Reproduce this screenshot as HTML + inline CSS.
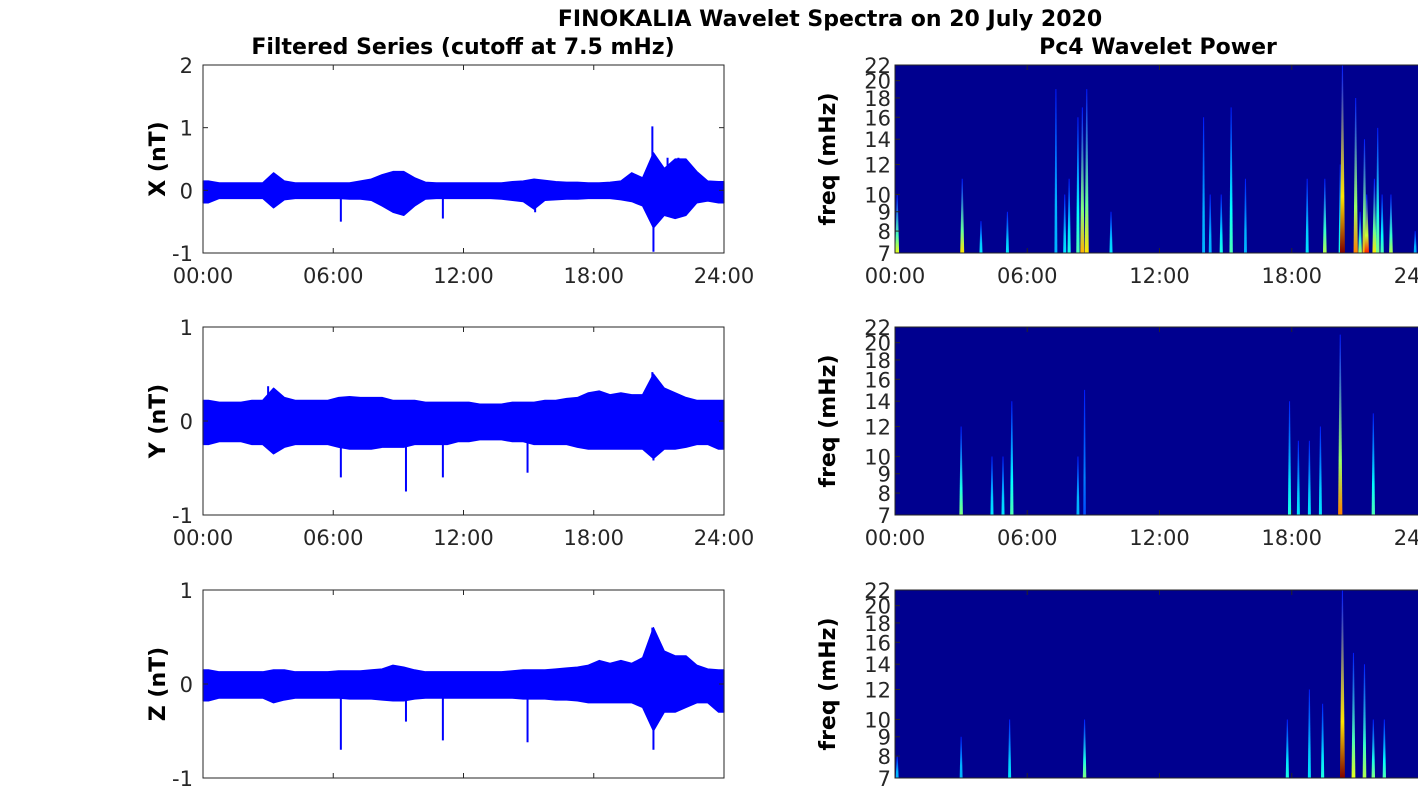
<!DOCTYPE html>
<html><head><meta charset="utf-8"><style>
html,body{margin:0;padding:0;background:#fff;}
svg{display:block;font-family:"DejaVu Sans","Liberation Sans",sans-serif;}
</style></head><body>
<svg id="fig" width="1418" height="788" viewBox="0 0 1418 788" xmlns="http://www.w3.org/2000/svg">
<text x="830" y="26" text-anchor="middle" font-weight="bold" font-size="22" fill="#000">FINOKALIA Wavelet Spectra on 20 July 2020</text>
<text x="463" y="54" text-anchor="middle" font-weight="bold" font-size="22" fill="#000">Filtered Series (cutoff at 7.5 mHz)</text>
<text x="1158" y="54" text-anchor="middle" font-weight="bold" font-size="22" fill="#000">Pc4 Wavelet Power</text>
<g id="plots"></g>
</svg>
<script>
// ---- data: time series envelopes at 30-min resolution (48 bins) ----
const hours = Array.from({length:48},(_, i)=>i*0.5);
const xUpper=[0.15,0.12,0.12,0.12,0.12,0.12,0.28,0.15,0.12,0.12,0.12,0.12,0.12,0.12,0.15,0.18,0.25,0.3,0.3,0.2,0.13,0.12,0.12,0.12,0.12,0.12,0.12,0.12,0.14,0.15,0.18,0.16,0.14,0.13,0.13,0.12,0.12,0.13,0.15,0.28,0.2,0.6,0.35,0.5,0.5,0.3,0.15,0.14];
const xLower=[-0.2,-0.13,-0.13,-0.13,-0.13,-0.13,-0.28,-0.15,-0.13,-0.13,-0.13,-0.13,-0.13,-0.14,-0.14,-0.16,-0.25,-0.35,-0.4,-0.25,-0.14,-0.13,-0.13,-0.13,-0.13,-0.13,-0.13,-0.14,-0.16,-0.18,-0.3,-0.16,-0.15,-0.14,-0.14,-0.13,-0.13,-0.13,-0.15,-0.18,-0.25,-0.6,-0.4,-0.45,-0.4,-0.2,-0.17,-0.2];
const yUpper=[0.22,0.2,0.2,0.2,0.22,0.22,0.35,0.25,0.22,0.22,0.22,0.22,0.25,0.26,0.25,0.25,0.25,0.22,0.22,0.22,0.2,0.2,0.2,0.2,0.2,0.18,0.18,0.18,0.2,0.2,0.2,0.22,0.22,0.24,0.25,0.3,0.32,0.28,0.3,0.28,0.28,0.5,0.35,0.3,0.25,0.22,0.22,0.22];
const yLower=[-0.25,-0.22,-0.22,-0.22,-0.25,-0.25,-0.35,-0.28,-0.25,-0.25,-0.25,-0.25,-0.28,-0.3,-0.3,-0.3,-0.28,-0.28,-0.28,-0.25,-0.25,-0.25,-0.25,-0.22,-0.22,-0.2,-0.2,-0.2,-0.22,-0.22,-0.25,-0.25,-0.25,-0.25,-0.28,-0.3,-0.3,-0.3,-0.3,-0.3,-0.3,-0.4,-0.3,-0.3,-0.28,-0.25,-0.25,-0.3];
const zUpper=[0.15,0.13,0.13,0.13,0.13,0.13,0.15,0.15,0.13,0.13,0.13,0.13,0.14,0.14,0.14,0.15,0.16,0.2,0.18,0.15,0.13,0.13,0.13,0.13,0.13,0.13,0.13,0.13,0.14,0.15,0.15,0.15,0.16,0.17,0.18,0.2,0.25,0.22,0.25,0.22,0.28,0.6,0.35,0.3,0.3,0.2,0.16,0.15];
const zLower=[-0.18,-0.15,-0.15,-0.15,-0.15,-0.15,-0.2,-0.17,-0.15,-0.15,-0.15,-0.15,-0.15,-0.16,-0.16,-0.16,-0.17,-0.18,-0.18,-0.16,-0.15,-0.15,-0.15,-0.15,-0.15,-0.15,-0.15,-0.15,-0.15,-0.16,-0.16,-0.16,-0.17,-0.17,-0.18,-0.2,-0.2,-0.2,-0.2,-0.2,-0.25,-0.5,-0.3,-0.3,-0.25,-0.2,-0.2,-0.3];
// spikes: time (h), value
const xSpikeT=[6.35,11.05,15.3,20.7,20.75,21.4,21.9,22.5];
const xSpikeV=[-0.5,-0.45,-0.35,1.02,-0.98,0.52,0.52,0.35];
const ySpikeT=[3.0,6.35,9.35,11.05,14.95,20.7,20.75];
const ySpikeV=[0.37,-0.6,-0.75,-0.6,-0.55,0.52,-0.42];
const zSpikeT=[6.35,9.35,11.05,14.95,20.7,20.75];
const zSpikeV=[-0.7,-0.4,-0.6,-0.62,0.6,-0.7];
// spectrogram stripes: time (h), top freq (mHz), power (0..1)
const s1T=[0.1,3.05,3.9,5.1,7.3,7.7,7.9,8.3,8.5,8.7,9.8,14.0,14.3,14.8,15.25,15.9,18.7,19.5,20.2,20.3,20.9,21.1,21.3,21.4,21.75,21.9,22.1,22.5,23.6];
const s1F=[10,11,8.5,9,19,10,11,16,17,19,9,16,10,10,17,11,11,11,12,22,18,9,14,10,11,15,10,10,8];
const s1P=[0.6,0.65,0.35,0.35,0.3,0.35,0.4,0.45,0.7,0.65,0.35,0.3,0.3,0.4,0.45,0.3,0.35,0.55,0.4,1.0,0.75,0.55,0.7,0.85,0.65,0.5,0.45,0.55,0.3];
const s2T=[3.0,4.4,4.9,5.3,8.3,8.6,17.9,18.3,18.8,19.3,20.2,21.7];
const s2F=[12,10,10,14,10,15,14,11,11,12,21,13];
const s2P=[0.5,0.35,0.35,0.45,0.3,0.2,0.4,0.35,0.35,0.35,0.75,0.45];
const s3T=[0.1,3.0,5.2,8.6,17.8,18.8,19.4,20.3,20.8,21.3,21.7,22.2];
const s3F=[8,9,10,10,10,12,11,22,15,14,10,10];
const s3P=[0.3,0.3,0.35,0.5,0.4,0.35,0.4,1.0,0.6,0.55,0.5,0.45];
const timeTicks=["00:00","06:00","12:00","18:00","24:00"];
const freqTicks=[7,8,9,10,12,14,16,18,20,22];

const NS="http://www.w3.org/2000/svg";
const root=document.getElementById('plots');
function mk(tag,attrs,parent){const e=document.createElementNS(NS,tag);for(const k in attrs)e.setAttribute(k,attrs[k]);(parent||root).appendChild(e);return e;}
function jet(t){
  const c=v=>Math.round(255*Math.max(0,Math.min(1,v)));
  const r=1.5-Math.abs(4*t-3), g=1.5-Math.abs(4*t-2), b=1.5-Math.abs(4*t-1);
  return `rgb(${c(r)},${c(g)},${c(b)})`;
}
let gid=0;
const FS=21;
function linePanel(name,top,ymin,ymax,yticks,upper,lower,spT,spV,ylab,showX){
  const L=203,R=724,T=top,B=top+188;
  const sx=h=>L+(R-L)*h/24, sy=v=>B-(B-T)*(v-ymin)/(ymax-ymin);
  const g=mk('g',{});
  
  
  mk('rect',{x:L,y:T,width:R-L,height:B-T,fill:'#fff'},g);
  let pts=[];
  pts.push(sx(0)+','+sy(upper[0]));
  hours.forEach((h,i)=>{pts.push(sx(h+0.25)+','+sy(upper[i]));});
  pts.push(sx(24)+','+sy(upper[upper.length-1]));
  pts.push(sx(24)+','+sy(lower[lower.length-1]));
  for(let i=hours.length-1;i>=0;i--){pts.push(sx(hours[i]+0.25)+','+sy(lower[i]));}
  pts.push(sx(0)+','+sy(lower[0]));
  const band=mk('polygon',{points:pts.join(' '),fill:'#0000ff',stroke:'#0000ff','stroke-width':1.2,'stroke-linejoin':'round'},g);
  
  
  spT.forEach((t,i)=>{
    const l=mk('line',{x1:sx(t),x2:sx(t),y1:sy(0),y2:sy(spV[i]),stroke:'#0000ff','stroke-width':2},g);
    
    
  });
  mk('rect',{x:L,y:T,width:R-L,height:B-T,fill:'none',stroke:'#262626','stroke-width':1},g);
  yticks.forEach(v=>{
    mk('line',{x1:L,x2:L+5,y1:sy(v),y2:sy(v),stroke:'#262626'},g);
    mk('line',{x1:R,x2:R-5,y1:sy(v),y2:sy(v),stroke:'#262626'},g);
    const t=mk('text',{x:L-10,y:sy(v)+8,'text-anchor':'end','font-size':FS,fill:'#262626'},g);t.textContent=v;
    
    
  });
  timeTicks.forEach((lab,i)=>{
    const x=sx(i*6);
    mk('line',{x1:x,x2:x,y1:B,y2:B-5,stroke:'#262626'},g);
    mk('line',{x1:x,x2:x,y1:T,y2:T+5,stroke:'#262626'},g);
    if(showX){const t=mk('text',{x:x,y:B+30,'text-anchor':'middle','font-size':FS,fill:'#262626'},g);t.textContent=lab;
      
      }
  });
  const yl=mk('text',{x:0,y:0,transform:`translate(165,${(T+B)/2}) rotate(-90)`,'text-anchor':'middle','font-size':22,'font-weight':'bold',fill:'#000'},g);
  yl.textContent=ylab;
  
  
}
function specPanel(name,top,T_,F_,P_,showX){
  const L=895,R=1424,T=top,B=top+188;
  const fmin=7,fmax=22;
  const sx=h=>L+(R-L)*h/24, sy=f=>B-(B-T)*Math.log(f/fmin)/Math.log(fmax/fmin);
  const g=mk('g',{});
  
  
  mk('rect',{x:L,y:T,width:R-L,height:B-T,fill:'#00008f'},g);
  const defs=mk('defs',{},g);
  T_.forEach((t,i)=>{
    const id='gr'+(gid++);
    const lg=mk('linearGradient',{id:id,x1:0,y1:1,x2:0,y2:0},defs);
    mk('stop',{offset:'0','stop-color':jet(P_[i])},lg);
    mk('stop',{offset:'0.3','stop-color':jet(0.15+P_[i]*0.5)},lg);
    mk('stop',{offset:'1','stop-color':jet(0.15)},lg);
    const x=sx(t), w=1+P_[i]*1.5;
    const p=mk('polygon',{points:`${x-w},${B} ${x-0.5},${sy(F_[i])} ${x+0.5},${sy(F_[i])} ${x+w},${B}`,fill:`url(#${id})`},g);
    
    
  });
  mk('rect',{x:L,y:T,width:R-L,height:B-T,fill:'none',stroke:'#262626'},g);
  freqTicks.forEach(f=>{
    mk('line',{x1:L,x2:L+5,y1:sy(f),y2:sy(f),stroke:'#262626'},g);
    const t=mk('text',{x:L-4,y:sy(f)+8,'text-anchor':'end','font-size':FS,fill:'#262626'},g);t.textContent=f;
    
    
  });
  timeTicks.forEach((lab,i)=>{
    const x=sx(i*6);
    mk('line',{x1:x,x2:x,y1:B,y2:B-5,stroke:'#262626'},g);
    mk('line',{x1:x,x2:x,y1:T,y2:T+5,stroke:'#262626'},g);
    if(showX){const t=mk('text',{x:x,y:B+30,'text-anchor':'middle','font-size':FS,fill:'#262626'},g);t.textContent=lab;
      
      }
  });
  const yl=mk('text',{x:0,y:0,transform:`translate(835,${(T+B)/2}) rotate(-90)`,'text-anchor':'middle','font-size':22,'font-weight':'bold',fill:'#000'},g);
  yl.textContent='freq (mHz)';
  
  
}
linePanel('x',65,-1,2,[-1,0,1,2],xUpper,xLower,xSpikeT,xSpikeV,'X (nT)',true);
linePanel('y',327,-1,1,[-1,0,1],yUpper,yLower,ySpikeT,ySpikeV,'Y (nT)',true);
linePanel('z',590,-1,1,[-1,0,1],zUpper,zLower,zSpikeT,zSpikeV,'Z (nT)',false);
specPanel('x',65,s1T,s1F,s1P,true);
specPanel('y',327,s2T,s2F,s2P,true);
specPanel('z',590,s3T,s3F,s3P,false);
</script>
</body></html>
